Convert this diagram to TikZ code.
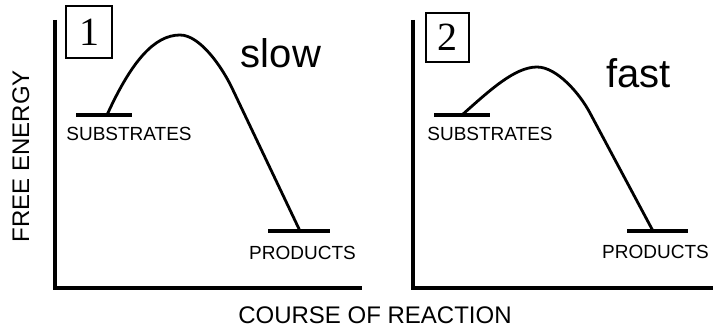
\documentclass[tikz,border=0pt]{standalone}
\usepackage{fontspec}
\setmainfont{Liberation Sans}
\newfontfamily\digitfont{Liberation Serif}
\begin{document}
\begin{tikzpicture}[x=1pt,y=-1pt,
  axisline/.style={line width=4pt, line join=miter},
  levelbar/.style={line width=4pt},
  energycurve/.style={line width=2.8pt, line cap=round, line join=round},
  numbox/.style={draw, line width=1.1pt, inner sep=0, font=\digitfont\fontsize{40}{40}\selectfont},
  lvl/.style={inner sep=0, anchor=base, font=\fontsize{19}{19}\selectfont},
  speed/.style={inner sep=0, anchor=base, font=\fontsize{40}{40}\selectfont},
  axlabel/.style={inner sep=0, anchor=base, font=\fontsize{24}{24}\selectfont}]
\useasboundingbox (0,0) rectangle (713,331);
% panel 1
\coordinate (yt1) at (55,20);
\coordinate (o1) at (55,288);
\coordinate (xe1) at (362,288);
\draw[axisline] (yt1) -- (o1) -- (xe1);
\node[numbox, minimum width=46pt, minimum height=52pt] (box1) at (89,32) {1};
\coordinate (sl1) at (76,115); \coordinate (sr1) at (132,115);
\coordinate (pl1) at (268,231); \coordinate (pr1) at (330,231);
\draw[levelbar] (sl1) -- (sr1);
\draw[levelbar] (pl1) -- (pr1);
\coordinate (cs1) at (107,115);
\coordinate (pk1) at (180,35);
\coordinate (md1) at (232,88);
\coordinate (ce1) at (300,231);
\draw[energycurve] (cs1) .. controls (132,60) and (155,35) .. (pk1)
  .. controls (200,35) and (222,67) .. (md1) -- (ce1);
\node[lvl] (sub1) at (129,141) {SUBSTRATES};
\node[lvl] (prod1) at (302.5,260) {PRODUCTS};
\node[speed] (slow) at (281,68) {slow};
% panel 2
\coordinate (yt2) at (413,20);
\coordinate (o2) at (413,288);
\coordinate (xe2) at (713,288);
\draw[axisline] (yt2) -- (o2) -- (xe2);
\node[numbox, minimum width=43pt, minimum height=49pt] (box2) at (447.5,37.5) {2};
\coordinate (sl2) at (434,115); \coordinate (sr2) at (490,115);
\coordinate (pl2) at (627,231); \coordinate (pr2) at (688,231);
\draw[levelbar] (sl2) -- (sr2);
\draw[levelbar] (pl2) -- (pr2);
\coordinate (cs2) at (462,115);
\coordinate (pk2) at (537,67);
\coordinate (md2) at (590,113);
\coordinate (ce2) at (653,231);
\draw[energycurve] (cs2) .. controls (490,90) and (515,67) .. (pk2)
  .. controls (557,67) and (580,94) .. (md2) -- (ce2);
\node[lvl] (sub2) at (490,141) {SUBSTRATES};
\node[lvl] (prod2) at (655.5,259) {PRODUCTS};
\node[speed] (fast) at (638.5,88) {fast};
% axis labels
\node[axlabel] (xlab) at (375,324) {COURSE OF REACTION};
\node[axlabel, rotate=90] (ylab) at (29,156) {FREE ENERGY};
\end{tikzpicture}
\end{document}
